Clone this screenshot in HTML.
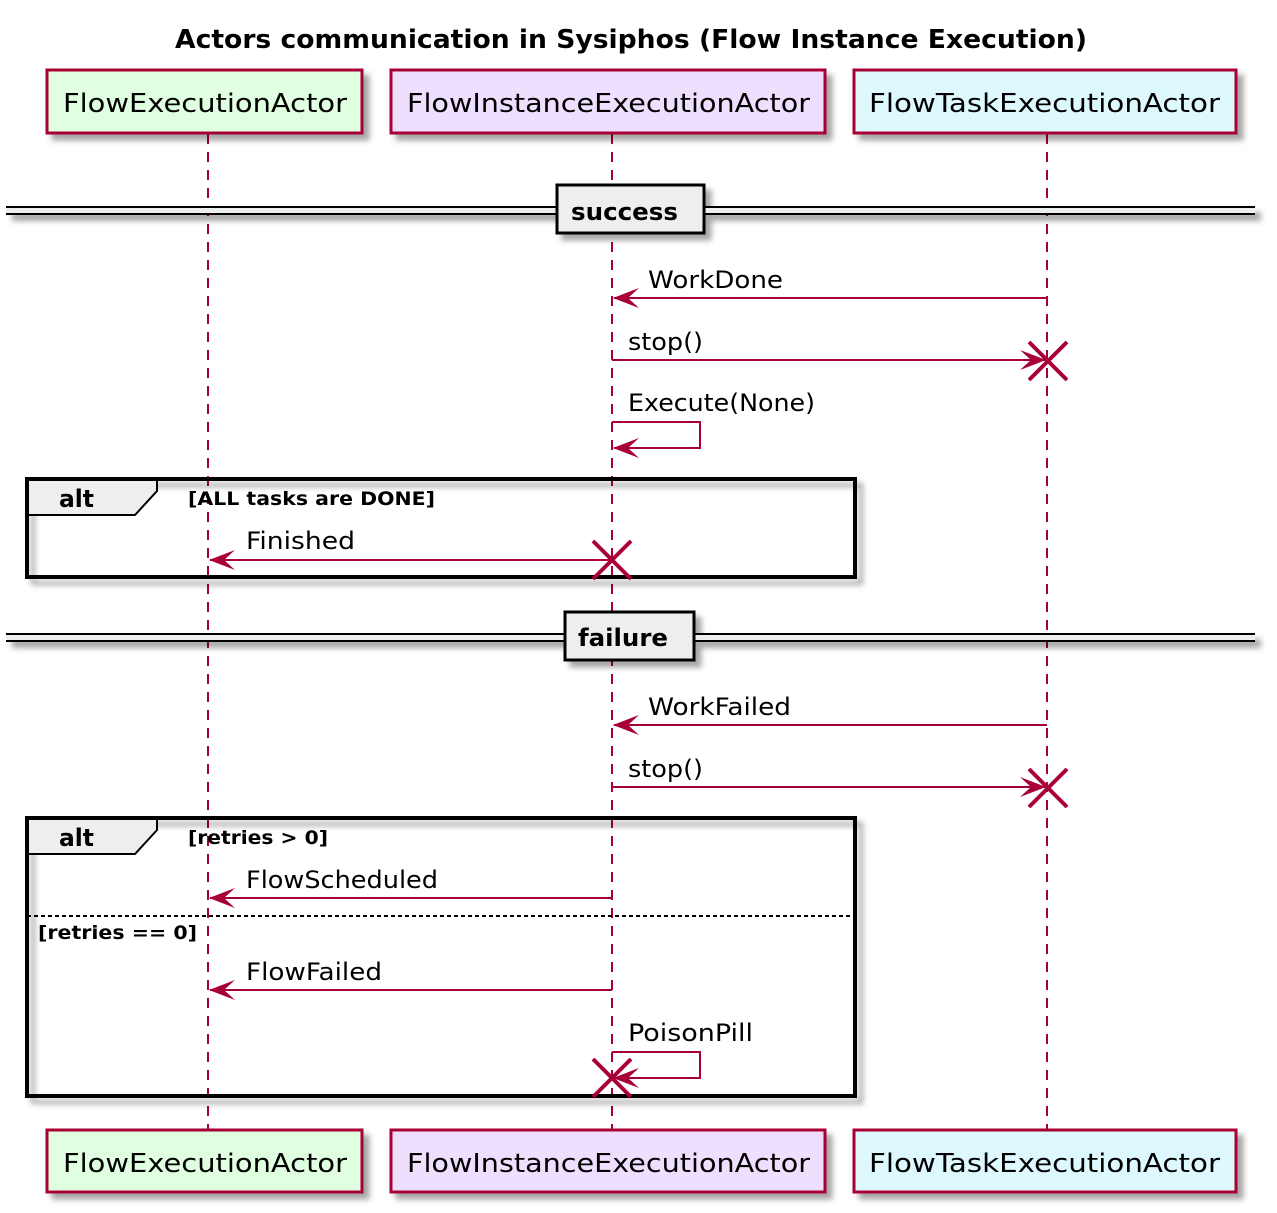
<!DOCTYPE html>
<html><head><meta charset="utf-8"><style>
html,body{margin:0;padding:0;background:#fff;}
svg{display:block;}
text{font-family:"DejaVu Sans","Liberation Sans",sans-serif;}
</style></head><body>
<svg width="1277" height="1213" viewBox="0 0 1277 1213" xmlns="http://www.w3.org/2000/svg">
<defs>
<filter id="sh" x="-10%" y="-10%" width="130%" height="150%">
<feGaussianBlur in="SourceAlpha" stdDeviation="3"/>
<feOffset dx="6" dy="6" result="b"/>
<feColorMatrix in="b" type="matrix" values="0 0 0 0 0  0 0 0 0 0  0 0 0 0 0  0 0 0 0.35 0"/>
<feMerge><feMergeNode/><feMergeNode in="SourceGraphic"/></feMerge>
</filter>
</defs>

<text x="631" y="48" text-anchor="middle" font-size="26" font-weight="bold" textLength="912" lengthAdjust="spacingAndGlyphs">Actors communication in Sysiphos (Flow Instance Execution)</text>

<!-- lifelines -->
<g stroke="#A80036" stroke-width="2" stroke-dasharray="10,8">
<line x1="208" y1="134" x2="208" y2="1129"/>
<line x1="612" y1="134" x2="612" y2="1129"/>
<line x1="1047" y1="134" x2="1047" y2="1129"/>
</g>

<!-- participants -->
<g stroke="#A80036" stroke-width="3" filter="url(#sh)">
<rect x="47" y="70" width="315" height="63" fill="#E0FEE0"/>
<rect x="391" y="70" width="434" height="63" fill="#EEDFFE"/>
<rect x="854" y="70" width="382" height="63" fill="#DEF9FE"/>
<rect x="47" y="1130" width="315" height="62" fill="#E0FEE0"/>
<rect x="391" y="1130" width="434" height="62" fill="#EEDFFE"/>
<rect x="854" y="1130" width="382" height="62" fill="#DEF9FE"/>
</g>
<g font-size="26">
<text x="63" y="112" textLength="284" lengthAdjust="spacingAndGlyphs">FlowExecutionActor</text>
<text x="407" y="112" textLength="403" lengthAdjust="spacingAndGlyphs">FlowInstanceExecutionActor</text>
<text x="869" y="112" textLength="351" lengthAdjust="spacingAndGlyphs">FlowTaskExecutionActor</text>
<text x="63" y="1172" textLength="284" lengthAdjust="spacingAndGlyphs">FlowExecutionActor</text>
<text x="407" y="1172" textLength="403" lengthAdjust="spacingAndGlyphs">FlowInstanceExecutionActor</text>
<text x="869" y="1172" textLength="351" lengthAdjust="spacingAndGlyphs">FlowTaskExecutionActor</text>
</g>

<!-- dividers -->
<g filter="url(#sh)">
<rect x="6" y="207" width="1249" height="7" fill="#EEEEEE"/>
<line x1="6" y1="207" x2="1255" y2="207" stroke="#000" stroke-width="2"/>
<line x1="6" y1="214" x2="1255" y2="214" stroke="#000" stroke-width="2"/>
<rect x="557" y="185" width="147" height="48" fill="#EEEEEE" stroke="#000" stroke-width="3"/>
<rect x="6" y="634" width="1249" height="7" fill="#EEEEEE"/>
<line x1="6" y1="634" x2="1255" y2="634" stroke="#000" stroke-width="2"/>
<line x1="6" y1="641" x2="1255" y2="641" stroke="#000" stroke-width="2"/>
<rect x="565" y="612" width="129" height="48" fill="#EEEEEE" stroke="#000" stroke-width="3"/>
</g>
<text x="571" y="220" font-size="24" font-weight="bold" textLength="107" lengthAdjust="spacingAndGlyphs">success</text>
<text x="578" y="646" font-size="24" font-weight="bold" textLength="90" lengthAdjust="spacingAndGlyphs">failure</text>

<!-- alt frames -->
<g filter="url(#sh)">
<rect x="27" y="479" width="828" height="98" fill="none" stroke="#000" stroke-width="4"/>
<rect x="27" y="818" width="828" height="278" fill="none" stroke="#000" stroke-width="4"/>
</g>
<path d="M27 479 L157 479 L157 491 L135 515 L27 515 Z" fill="#EEEEEE" stroke="#000" stroke-width="2"/>
<path d="M27 818 L157 818 L157 830 L135 854 L27 854 Z" fill="#EEEEEE" stroke="#000" stroke-width="2"/>
<rect x="27" y="479" width="828" height="98" fill="none" stroke="#000" stroke-width="4"/>
<rect x="27" y="818" width="828" height="278" fill="none" stroke="#000" stroke-width="4"/>
<line x1="27" y1="916" x2="855" y2="916" stroke="#000" stroke-width="2" stroke-dasharray="4,3"/>
<g font-weight="bold">
<text x="59" y="507" font-size="24" textLength="35" lengthAdjust="spacingAndGlyphs">alt</text>
<text x="59" y="846" font-size="24" textLength="35" lengthAdjust="spacingAndGlyphs">alt</text>
<text x="188" y="505" font-size="19" textLength="247" lengthAdjust="spacingAndGlyphs">[ALL tasks are DONE]</text>
<text x="188" y="844" font-size="19" textLength="140" lengthAdjust="spacingAndGlyphs">[retries &gt; 0]</text>
<text x="38" y="939" font-size="19" textLength="159" lengthAdjust="spacingAndGlyphs">[retries == 0]</text>
</g>

<!-- messages -->
<g stroke="#A80036" stroke-width="2" fill="none">
<line x1="1047" y1="298" x2="614" y2="298"/>
<line x1="612" y1="360" x2="1045" y2="360"/>
<polyline points="612,422 700,422 700,448 614,448"/>
<line x1="612" y1="560" x2="210" y2="560"/>
<line x1="1047" y1="725" x2="614" y2="725"/>
<line x1="612" y1="787" x2="1045" y2="787"/>
<line x1="612" y1="898" x2="210" y2="898"/>
<line x1="612" y1="990" x2="210" y2="990"/>
<polyline points="612,1052 700,1052 700,1078 614,1078"/>
</g>
<g fill="#A80036">
<polygon points="613,298 639,288 628,298 639,308"/>
<polygon points="1046,360 1020,350 1031,360 1020,370"/>
<polygon points="613,448 639,438 628,448 639,458"/>
<polygon points="209,560 235,550 224,560 235,570"/>
<polygon points="613,725 639,715 628,725 639,735"/>
<polygon points="1046,787 1020,777 1031,787 1020,797"/>
<polygon points="209,898 235,888 224,898 235,908"/>
<polygon points="209,990 235,980 224,990 235,1000"/>
<polygon points="613,1078 639,1068 628,1078 639,1088"/>
</g>
<g stroke="#A80036" stroke-width="4">
<line x1="1029" y1="342" x2="1067" y2="380"/><line x1="1067" y1="342" x2="1029" y2="380"/>
<line x1="593" y1="541" x2="631" y2="579"/><line x1="631" y1="541" x2="593" y2="579"/>
<line x1="1029" y1="769" x2="1067" y2="807"/><line x1="1067" y1="769" x2="1029" y2="807"/>
<line x1="593" y1="1059" x2="631" y2="1097"/><line x1="631" y1="1059" x2="593" y2="1097"/>
</g>
<g font-size="24">
<text x="648" y="288" textLength="135" lengthAdjust="spacingAndGlyphs">WorkDone</text>
<text x="628" y="350" textLength="75" lengthAdjust="spacingAndGlyphs">stop()</text>
<text x="628" y="411" textLength="187" lengthAdjust="spacingAndGlyphs">Execute(None)</text>
<text x="246" y="549" textLength="109" lengthAdjust="spacingAndGlyphs">Finished</text>
<text x="648" y="715" textLength="143" lengthAdjust="spacingAndGlyphs">WorkFailed</text>
<text x="628" y="777" textLength="75" lengthAdjust="spacingAndGlyphs">stop()</text>
<text x="246" y="888" textLength="192" lengthAdjust="spacingAndGlyphs">FlowScheduled</text>
<text x="246" y="980" textLength="136" lengthAdjust="spacingAndGlyphs">FlowFailed</text>
<text x="628" y="1041" textLength="125" lengthAdjust="spacingAndGlyphs">PoisonPill</text>
</g>
</svg>
</body></html>
